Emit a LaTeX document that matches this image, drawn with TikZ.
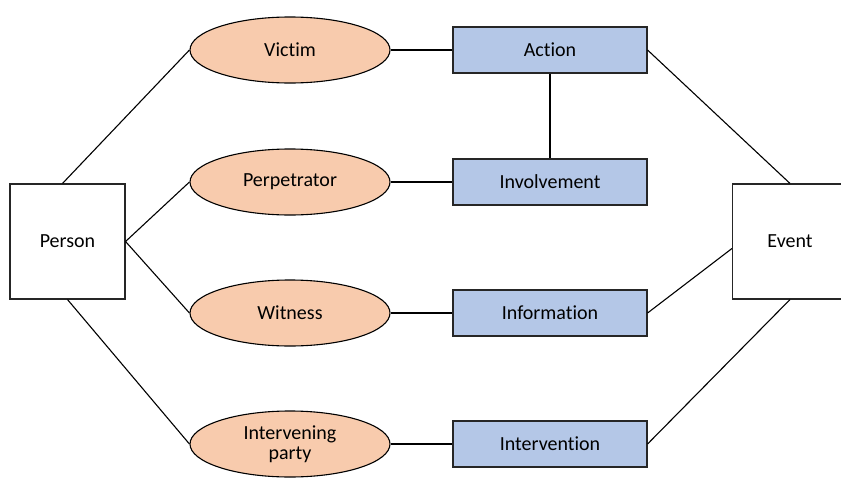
\documentclass[tikz,border=0pt]{standalone}
\usepackage{fontspec}
\setmainfont{Carlito}[Ligatures=NoCommon]
\usetikzlibrary{shapes.geometric}
\definecolor{peach}{HTML}{F8CBAD}
\definecolor{paleblue}{HTML}{B4C7E7}

\begin{document}
\begin{tikzpicture}[x=1pt, y=1pt, line width=1.1pt, font=\fontsize{20}{20}\selectfont,
    side/.style = {draw=black!85, minimum width=115pt, minimum height=115pt, inner sep=0pt},
    role/.style = {draw, ellipse, fill=peach, minimum width=200pt, minimum height=66pt, inner sep=0pt, align=center},
    part/.style = {draw=black!85, fill=paleblue, minimum width=194pt, minimum height=46pt, inner sep=0pt}]
                \useasboundingbox (0,0) rectangle (841,-477);

                \node[side] (1) at (67.5,-241.5) {Person};
                \node[side] (2) [right of=1, node distance=722.5pt] {Event};

                \node[role] (3) at (290,-50) {Victim};
                \node[role] (4) [below of=3, node distance=132pt] {Perpetrator};
                \node[role] (5) [below of=4, node distance=131pt] {Witness};
                \node[role] (6) [below of=5, node distance=131pt] {Intervening\\party};

                \node[part] (7) [right of=3, node distance=260pt] {Action};
                \node[part] (8) [right of=4, node distance=260pt] {Involvement};
                \node[part] (9) [right of=5, node distance=260pt] {Information};
                \node[part] (10) [right of=6, node distance=260pt] {Intervention};

                \draw ([xshift=-5pt]1.north) -- (3.west);
                \draw (1.east) -- (4.west);
                \draw (1.east) -- (5.west);
                \draw (1.south) -- (6.west);

                \draw (3) -- (7);
                \draw (4) -- (8);
                \draw (5) -- (9);
                \draw (6) -- (10);
                \draw (7) -- (8);

                \draw (7.east) -- (2.north);
                \draw (9.east) -- ([yshift=-7pt]2.west);
                \draw (10.east) -- (2.south);

            \end{tikzpicture}
\end{document}
